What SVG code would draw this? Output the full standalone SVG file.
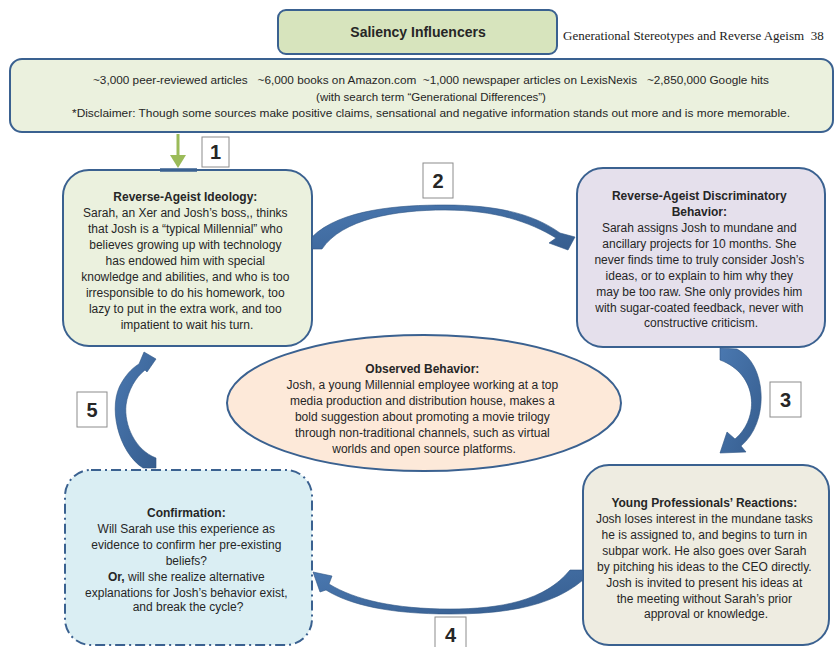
<svg xmlns="http://www.w3.org/2000/svg" width="840" height="647" viewBox="0 0 840 647">
<style>
.box{stroke:#3a6190;stroke-width:2}
.t{font-family:"Liberation Sans",Arial,sans-serif;font-size:12px;fill:#262626;text-anchor:middle}
.b{font-weight:bold}
.info{font-family:"Liberation Sans",Arial,sans-serif;font-size:11.5px;fill:#262626;text-anchor:middle;white-space:pre}
.lbl{fill:#fff;stroke:#8c8c8c;stroke-width:1}
.num{font-family:"Liberation Sans",Arial,sans-serif;font-size:20px;font-weight:bold;fill:#262626;text-anchor:middle}
.arr{fill:url(#g);stroke:#2f5584;stroke-width:0.6}
</style>
<defs>
<linearGradient id="g" x1="0" y1="0" x2="1" y2="1">
<stop offset="0" stop-color="#4a78b0"/>
<stop offset="1" stop-color="#365d8e"/>
</linearGradient>
</defs>
<rect width="840" height="647" fill="#fff"/>
<g id="title">
<rect class="box" x="278" y="10" width="279" height="44" rx="8" fill="#d7e4bd"/>
<text class="t b" x="418" y="37" style="font-size:14px">Saliency Influencers</text>
</g>
<text x="563" y="40" style="font-family:'Liberation Serif','Times New Roman',serif;font-size:13px;fill:#222;white-space:pre">Generational Stereotypes and Reverse Ageism  38</text>
<g id="info">
<rect class="box" x="10" y="59" width="823" height="73" rx="12" fill="#ebf1de"/>
<text class="info" x="431" y="84" textLength="676" lengthAdjust="spacingAndGlyphs">~3,000 peer-reviewed articles   ~6,000 books on Amazon.com  ~1,000 newspaper articles on LexisNexis   ~2,850,000 Google hits</text>
<text class="info" x="431" y="101">(with search term “Generational Differences”)</text>
<text class="info" x="431" y="117" textLength="718" lengthAdjust="spacingAndGlyphs">*Disclaimer: Though some sources make positive claims, sensational and negative information stands out more and is more memorable.</text>
</g>
<g id="ideology">
<rect class="box" x="63" y="170" width="249" height="176" rx="26" fill="#ebf1de"/>
<line x1="160" y1="170" x2="197" y2="170" stroke="#3a6190" stroke-width="3.5"/>
<text class="t" x="187">
<tspan class="b" x="187" y="201">Reverse-Ageist Ideology:</tspan>
<tspan x="187" y="217">Sarah, an Xer and Josh’s boss,, thinks</tspan>
<tspan x="187" y="233">that Josh is a “typical Millennial” who</tspan>
<tspan x="187" y="249">believes growing up with technology</tspan>
<tspan x="187" y="265">has endowed him with special</tspan>
<tspan x="187" y="281">knowledge and abilities, and who is too</tspan>
<tspan x="187" y="297">irresponsible to do his homework, too</tspan>
<tspan x="187" y="313">lazy to put in the extra work, and too</tspan>
<tspan x="187" y="329">impatient to wait his turn.</tspan>
</text>
</g>
<g id="discrimination">
<rect class="box" x="577" y="168" width="248" height="179" rx="26" fill="#e5e0ec"/>
<text class="t" x="701">
<tspan class="b" x="701" y="200">Reverse-Ageist Discriminatory</tspan>
<tspan class="b" x="701" y="216">Behavior:</tspan>
<tspan x="701" y="232">Sarah assigns Josh to mundane and</tspan>
<tspan x="701" y="248">ancillary projects for 10 months. She</tspan>
<tspan x="701" y="264">never finds time to truly consider Josh’s</tspan>
<tspan x="701" y="280">ideas, or to explain to him why they</tspan>
<tspan x="701" y="296">may be too raw. She only provides him</tspan>
<tspan x="701" y="312">with sugar-coated feedback, never with</tspan>
<tspan x="701" y="327">constructive criticism.</tspan>
</text>
</g>
<g id="observed">
<ellipse class="box" cx="424" cy="403" rx="197" ry="68" fill="#fde9d9"/>
<text class="t" x="424">
<tspan class="b" x="424" y="373">Observed Behavior:</tspan>
<tspan x="424" y="389">Josh, a young Millennial employee working at a top</tspan>
<tspan x="424" y="405">media production and distribution house, makes a</tspan>
<tspan x="424" y="421">bold suggestion about promoting a movie trilogy</tspan>
<tspan x="424" y="437">through non-traditional channels, such as virtual</tspan>
<tspan x="424" y="453">worlds and open source platforms.</tspan>
</text>
</g>
<g id="reactions">
<rect class="box" x="583" y="465" width="246" height="180" rx="26" fill="#eeece1"/>
<text class="t" x="706">
<tspan class="b" x="706" y="507">Young Professionals’ Reactions:</tspan>
<tspan x="706" y="523">Josh loses interest in the mundane tasks</tspan>
<tspan x="706" y="539">he is assigned to, and begins to turn in</tspan>
<tspan x="706" y="555">subpar work. He also goes over Sarah</tspan>
<tspan x="706" y="571">by pitching his ideas to the CEO directly.</tspan>
<tspan x="706" y="587">Josh is invited to present his ideas at</tspan>
<tspan x="706" y="603">the meeting without Sarah’s prior</tspan>
<tspan x="706" y="618">approval or knowledge.</tspan>
</text>
</g>
<g id="confirmation">
<rect class="box" x="65" y="470" width="247" height="175" rx="26" fill="#daeef3" stroke-dasharray="10,4,2,4"/>
<text class="t" x="188">
<tspan class="b" x="188" y="517">Confirmation:</tspan>
<tspan x="188" y="533">Will Sarah use this experience as</tspan>
<tspan x="188" y="549">evidence to confirm her pre-existing</tspan>
<tspan x="188" y="565">beliefs?</tspan>
<tspan x="188" y="581"><tspan class="b">Or,</tspan> will she realize alternative</tspan>
<tspan x="188" y="597">explanations for Josh’s behavior exist,</tspan>
<tspan x="188" y="611">and break the cycle?</tspan>
</text>
</g>
<g id="connectors">
<line x1="178" y1="134" x2="178" y2="158" stroke="#9bbb59" stroke-width="3"/>
<polygon points="170,155 186,155 178,168" fill="#9bbb59"/>
<path class="arr" d="M312,249 L312,237 C340,209 400,205 445,205 C500,205 535,215 560,233 L575,237 L568,250 L549,243 L556,238 C530,222 495,210 445,210 C395,210 342,219 322,249 Z"/>
<path class="arr" d="M720,348 L737,349 C767,364 770,422 741,446 L746,452 L720,453 L727,432 L735,439 C760,418 758,374 720,360 Z"/>
<path class="arr" d="M583,570 L583,580 C550,608 500,614 450,614 C390,614 350,605 326,590 L320,592 L313,572 L332,576 L329,584 C355,600 395,609 450,609 C500,609 545,601 570,570 Z"/>
<path class="arr" d="M143,468 C118,452 107,405 122,382 C128,372 134,367 139,364 L144,352 L156,359 L147,372 L145,370 C136,377 128,390 126,405 C124,425 135,450 156,458 L156,468 Z"/>
</g>
<g id="label1"><rect class="lbl" x="202" y="137" width="27" height="30"/><text class="num" x="215.5" y="159">1</text></g>
<g id="label2"><rect class="lbl" x="423" y="163" width="30" height="35"/><text class="num" x="438" y="188">2</text></g>
<g id="label3"><rect class="lbl" x="770" y="382" width="31" height="35"/><text class="num" x="785.5" y="407">3</text></g>
<g id="label4"><rect class="lbl" x="435" y="617" width="31" height="35"/><text class="num" x="450.5" y="642">4</text></g>
<g id="label5"><rect class="lbl" x="77" y="392" width="30" height="35"/><text class="num" x="92" y="417">5</text></g>
</svg>
